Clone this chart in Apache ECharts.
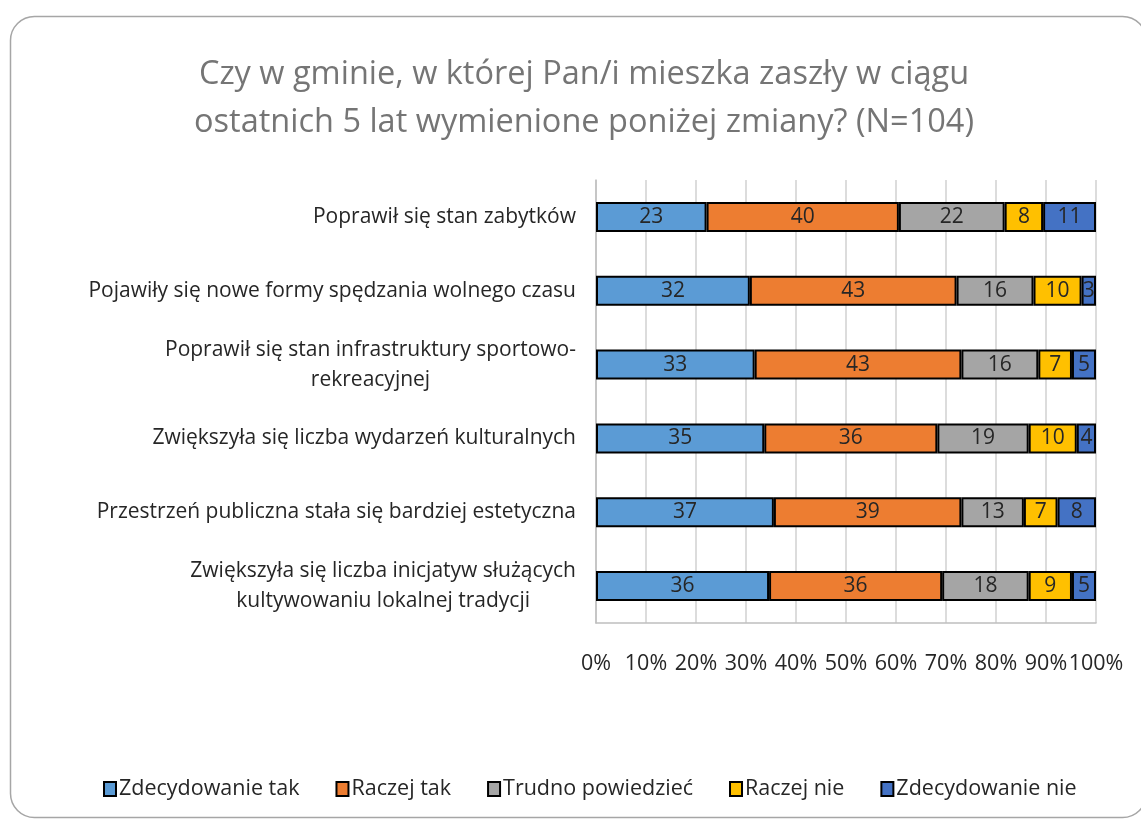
<!DOCTYPE html>
<html>
<head>
<meta charset="utf-8">
<script src="https://cdn.jsdelivr.net/npm/echarts@6/dist/echarts.min.js"></script>
<style>
  html, body { margin: 0; padding: 0; background: #fff; }
  #chart { width: 1141px; height: 824px; }
</style>
</head>
<body>
<div id="chart"></div>
<script>
// categories, top to bottom
var categories = [
  'Poprawił się stan zabytków',
  'Pojawiły się nowe formy spędzania wolnego czasu',
  'Poprawił się stan infrastruktury sportowo-\nrekreacyjnej',
  'Zwiększyła się liczba wydarzeń kulturalnych',
  'Przestrzeń publiczna stała się bardziej estetyczna',
  'Zwiększyła się liczba inicjatyw służących\nkultywowaniu lokalnej tradycji'
];
var seriesNames = ['Zdecydowanie tak', 'Raczej tak', 'Trudno powiedzieć', 'Raczej nie', 'Zdecydowanie nie'];
var zdecydowanieTak = [23, 32, 33, 35, 37, 36];
var raczejTak = [40, 43, 43, 36, 39, 36];
var trudnoPowiedziec = [22, 16, 16, 19, 13, 18];
var raczejNie = [8, 10, 7, 10, 7, 9];
var zdecydowanieNie = [11, 3, 5, 4, 8, 5];
var total = 104; // N
var colors = ['#5b9bd5', '#ed7d31', '#a5a5a5', '#ffc000', '#4472c4'];

var font = '"Open Sans", sans-serif';
var chartDom = document.getElementById('chart');
var myChart = echarts.init(chartDom);

var allData = [zdecydowanieTak, raczejTak, trudnoPowiedziec, raczejNie, zdecydowanieNie];
var series = allData.map(function (d, i) {
  return {
    name: seriesNames[i],
    type: 'bar',
    stack: 'all',
    barWidth: 30,
    data: d,
    itemStyle: { color: colors[i], borderColor: '#000', borderWidth: 2 },
    label: {
      show: true,
      position: 'inside',
      color: '#262626',
      fontSize: 21,
      fontFamily: font
    }
  };
});

var option = {
  animation: false,
  graphic: [{
    type: 'rect',
    shape: { x: 10.5, y: 16.5, width: 1136, height: 801, r: 24 },
    style: { fill: 'none', stroke: '#a6a6a6', lineWidth: 1.5 },
    silent: true
  }],
  title: {
    text: 'Czy w gminie, w której Pan/i mieszka zaszły w ciągu\nostatnich 5 lat wymienione poniżej zmiany? (N=104)',
    left: 579,
    top: 46,
    textAlign: 'center',
    textStyle: {
      color: '#757575',
      fontSize: 32.5,
      fontWeight: 'normal',
      fontFamily: font,
      lineHeight: 48
    }
  },
  legend: {
    bottom: 19,
    left: 98,
    icon: 'rect',
    itemWidth: 12,
    itemHeight: 14,
    itemGap: 36,
    textStyle: { fontSize: 21.5, color: '#262626', fontFamily: font, padding: [0, 0, 0, -2] },
    data: seriesNames
  },
  grid: {
    left: 596,
    width: 500,
    top: 180,
    height: 443
  },
  xAxis: {
    type: 'value',
    min: 0,
    max: total,
    interval: total / 10,
    axisLine: { show: true, lineStyle: { color: '#bfbfbf', width: 1.5 } },
    axisTick: { show: false },
    splitLine: { show: true, lineStyle: { color: '#d0d0d0', width: 1.5 } },
    axisLabel: {
      margin: 30,
      fontSize: 21.5,
      color: '#262626',
      fontFamily: font,
      formatter: function (v) { return Math.round(v / total * 100) + '%'; }
    }
  },
  yAxis: {
    type: 'category',
    inverse: true,
    data: categories,
    axisLine: { show: true, lineStyle: { color: '#bfbfbf', width: 1.5 } },
    axisTick: { show: false },
    axisLabel: {
      margin: 20,
      align: 'right',
      fontFamily: font,
      formatter: function (v) {
        return v.split('\n').map(function (l) { return '{c|' + l + '}'; }).join('\n');
      },
      rich: {
        c: { align: 'center', fontSize: 21, color: '#262626', fontFamily: font, lineHeight: 30 }
      }
    }
  },
  series: series
};

myChart.setOption(option);
</script>
</body>
</html>
